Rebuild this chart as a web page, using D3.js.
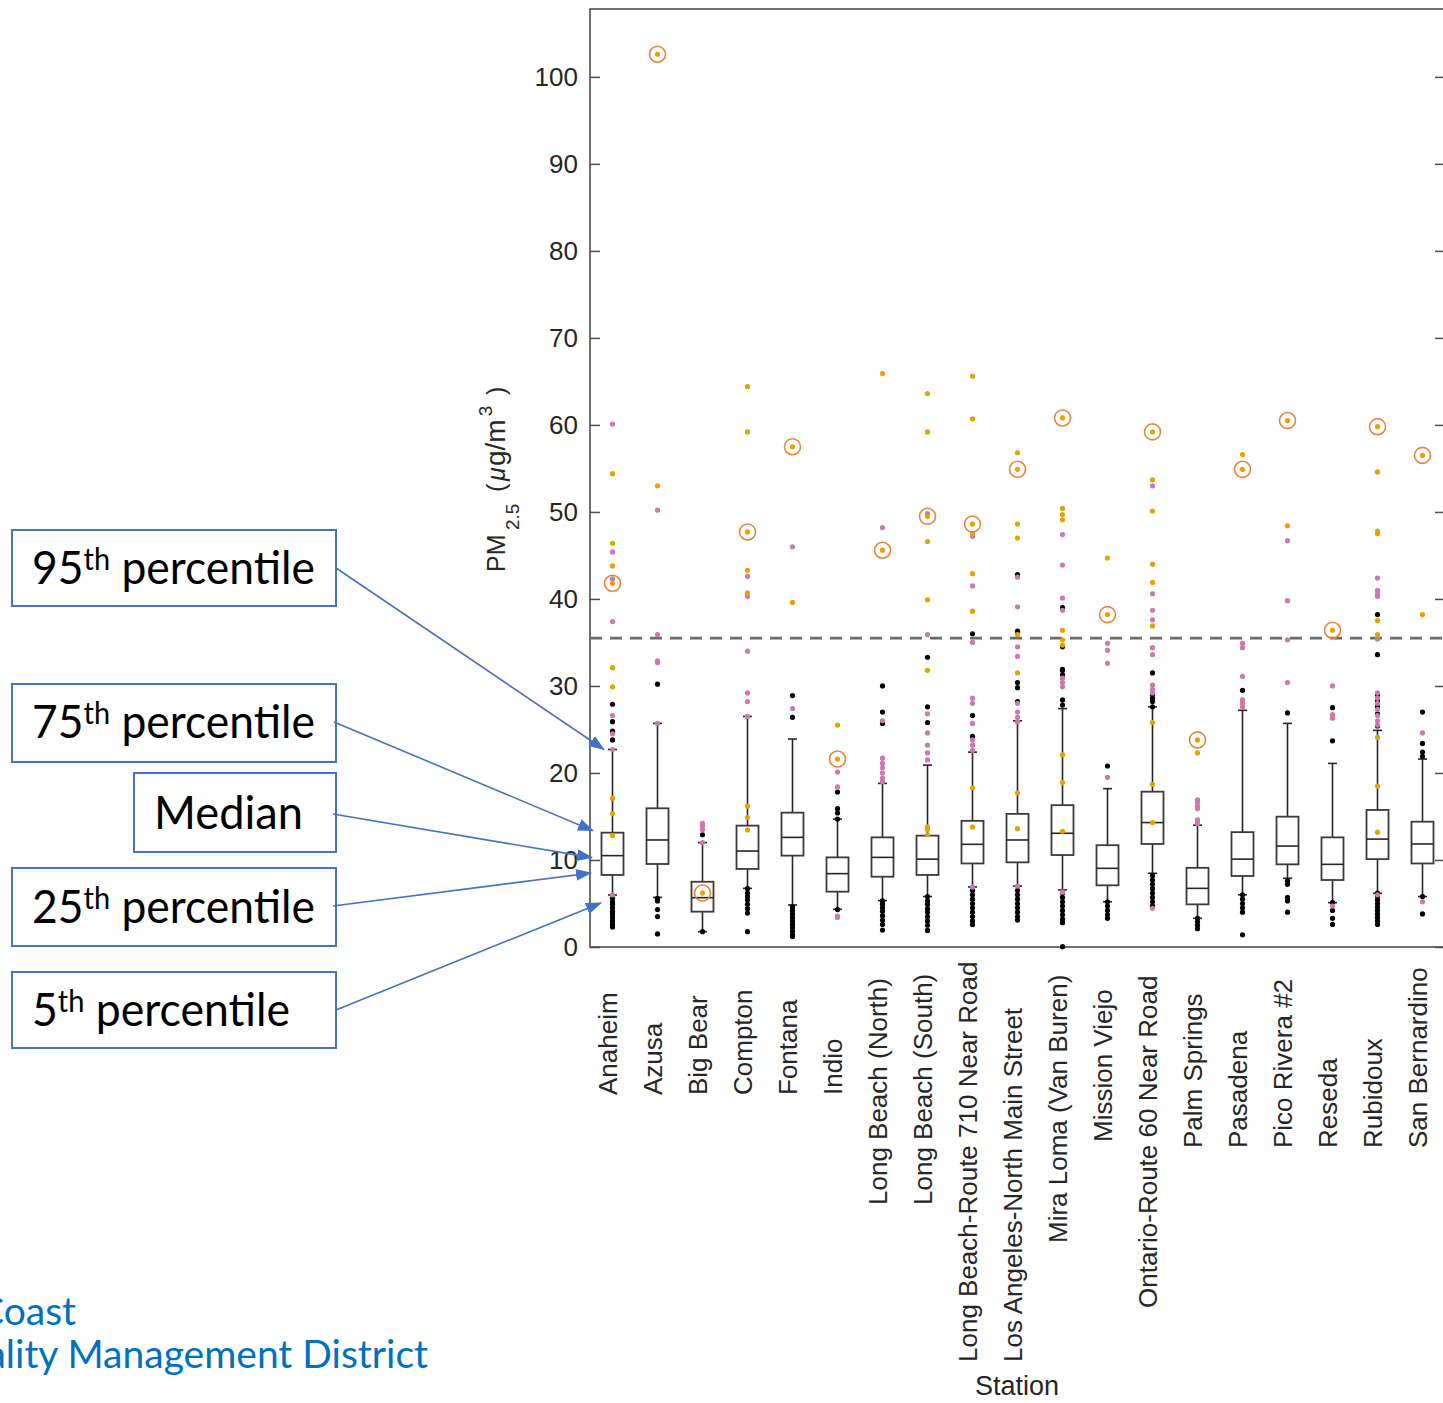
<!DOCTYPE html>
<html lang="en">
<head>
<meta charset="UTF-8">
<title>PM2.5 by station</title>
<script src="https://d3js.org/d3.v7.min.js"></script>
<style>
  body { margin: 0; background: #fff; overflow: hidden; }
  svg { display: block; font-family: "Liberation Sans", Arial, sans-serif; }
  .tick text { fill: #262626; font-size: 26px; }
  .tick line { stroke: #4d4d4d; stroke-width: 1.5; }
</style>
</head>
<body>
<div id="chart"></div>
<script>
// stations and box statistics (5th, 25th, median, 75th, 95th percentile)
const stations = ["Anaheim", "Azusa", "Big Bear", "Compton", "Fontana", "Indio",
  "Long Beach (North)", "Long Beach (South)", "Long Beach-Route 710 Near Road",
  "Los Angeles-North Main Street", "Mira Loma (Van Buren)", "Mission Viejo",
  "Ontario-Route 60 Near Road", "Palm Springs", "Pasadena", "Pico Rivera #2",
  "Reseda", "Rubidoux", "San Bernardino"];
const p5  = [5.98, 5.7, 1.76, 6.74, 4.83, 4.33, 5.33, 5.8, 6.9, 7.0, 6.55, 5.2, 8.47, 3.3, 6.0, 7.9, 5.1, 6.17, 5.8];
const p25 = [8.28, 9.54, 4.06, 8.97, 10.5, 6.36, 8.08, 8.28, 9.6, 9.73, 10.57, 7.09, 11.84, 4.9, 8.16, 9.5, 7.7, 10.1, 9.6];
const p50 = [10.5, 12.3, 5.67, 11.03, 12.6, 8.43, 10.3, 10.1, 11.8, 12.3, 13.07, 9.04, 14.3, 6.74, 10.1, 11.6, 9.5, 12.4, 11.84];
const p75 = [13.14, 15.94, 7.5, 13.95, 15.44, 10.3, 12.6, 12.8, 14.5, 15.3, 16.3, 11.7, 17.85, 9.1, 13.2, 14.98, 12.6, 15.75, 14.4];
const p95 = [22.7, 25.7, 12.0, 26.5, 23.9, 14.7, 18.8, 20.9, 22.4, 26.0, 27.4, 18.2, 27.6, 14.0, 27.2, 25.7, 21.1, 24.9, 21.6];

// circled day, one per station
const circled = [41.8, 102.6, 6.2, 47.7, 57.5, 21.6, 45.6, 49.5, 48.6, 54.9, 60.8, 38.2, 59.2, 23.8, 54.9, 60.5, 36.4, 59.8, 56.5];

// daily values drawn as dots, by colour
const orangePts = [
  [54.4, 46.4, 43.8, 32.1, 29.9, 17.1, 15.3, 12.8],
  [53.0],
  [],
  [64.4, 59.2, 43.3, 40.7, 16.2, 14.9, 13.45],
  [39.6],
  [25.5],
  [65.9],
  [63.6, 59.2, 46.6, 39.9, 31.8, 13.8, 13.5, 12.9],
  [65.6, 60.7, 47.5, 42.9, 38.6, 18.3, 13.8],
  [56.8, 48.6, 47.0, 35.9, 31.5, 17.7, 13.6],
  [50.4, 49.7, 49.1, 36.4, 35.3, 34.7, 22.1, 18.9, 13.3],
  [44.7],
  [53.7, 50.1, 44.0, 41.9, 36.9, 25.8, 18.7, 14.3],
  [22.3],
  [56.6],
  [48.4],
  [],
  [54.6, 47.8, 47.5, 37.5, 35.9, 24.1, 18.5, 13.2],
  [38.2]
];
const pinkPts = [
  [60.1, 45.4, 42.3, 37.4, 26.6, 24.5, 22.7, 6.0],
  [50.2, 35.9, 32.9, 32.7, 25.7],
  [14.2, 13.9, 13.5, 12.0],
  [42.6, 40.3, 34.0, 29.2, 28.2, 26.5],
  [46.0, 27.4],
  [20.1, 18.4, 3.56, 3.4],
  [48.2, 26.0, 21.7, 21.1, 20.6, 20.0, 19.4, 19.0],
  [49.8, 35.9, 26.8, 24.6, 23.2, 22.3, 21.5],
  [47.2, 41.5, 35.0, 28.6, 28.0, 25.7, 23.8, 23.2, 22.6, 6.9],
  [42.5, 39.1, 34.5, 33.4, 28.0, 27.0, 26.4, 25.9, 7.0],
  [47.4, 43.9, 40.1, 38.7, 30.9, 30.4, 29.9, 6.3],
  [34.9, 34.1, 32.6, 19.5],
  [53.0, 40.6, 38.7, 37.6, 34.4, 33.6, 30.1, 29.6, 29.2, 4.45],
  [16.9, 16.6, 16.2, 15.9, 14.6, 14.2],
  [34.9, 34.4, 31.1, 28.4, 28.0, 27.6],
  [46.7, 39.8, 35.3, 30.4],
  [30.0, 26.7, 26.3, 4.7],
  [42.4, 41.0, 40.6, 40.3, 35.4, 29.2, 28.6, 28.0, 27.3, 26.6, 26.0, 25.5, 6.0],
  [24.6, 5.2]
];
const blackPts = [
  [27.9, 25.9, 24.8, 23.8, 5.6, 5.2, 4.9, 4.5, 4.1, 3.8, 3.4, 3.0, 2.6, 2.3],
  [30.2, 5.6, 5.3, 4.3, 3.5, 1.5],
  [12.9, 1.76],
  [6.7, 6.2, 5.8, 5.4, 4.9, 4.4, 3.9, 1.76],
  [28.9, 26.4, 4.6, 4.2, 3.8, 3.4, 3.0, 2.6, 2.2, 1.8, 1.4, 1.2],
  [17.8, 15.9, 15.4, 14.7, 4.3],
  [30.0, 27.0, 25.7, 5.3, 4.9, 4.5, 4.1, 3.6, 3.1, 2.6, 1.95],
  [33.3, 27.6, 25.8, 5.8, 5.3, 4.9, 4.4, 4.0, 3.5, 3.0, 2.5, 1.9],
  [36.0, 26.6, 24.2, 6.5, 6.0, 5.5, 5.0, 4.5, 4.0, 3.5, 3.0, 2.6],
  [42.8, 36.3, 30.4, 29.8, 28.2, 6.5, 6.0, 5.5, 5.0, 4.5, 4.0, 3.5, 3.1],
  [39.0, 34.5, 31.9, 31.8, 31.3, 28.4, 27.8, 6.2, 5.7, 5.2, 4.7, 4.2, 3.7, 3.2, 2.8, 0.04],
  [20.8, 5.2, 4.7, 4.2, 3.7, 3.3],
  [31.5, 29.0, 28.6, 28.2, 27.6, 8.2, 7.7, 7.2, 6.7, 6.2, 5.7, 5.2, 4.7],
  [3.3, 2.9, 2.5, 2.1],
  [29.5, 6.0, 5.5, 5.0, 4.5, 4.0, 1.4],
  [26.9, 7.6, 7.2, 5.7, 5.3, 4.0],
  [27.5, 23.7, 5.1, 4.2, 3.3, 2.6],
  [38.2, 33.6, 29.0, 28.3, 27.6, 26.8, 25.4, 6.2, 5.8, 5.4, 5.0, 4.6, 4.2, 3.8, 3.4, 3.0, 2.6],
  [27.0, 23.4, 22.4, 21.9, 5.8, 3.8]
];

const standard = 35.5;
const yTicks = [0, 10, 20, 30, 40, 50, 60, 70, 80, 90, 100];

// layout
const W = 1443, H = 1403;
const plotLeft = 590, plotRight = 1445, plotTop = 9, plotBottom = 947;
const labelStartY = [1095, 1095, 1095, 1095, 1095, 1095, 1205, 1205, 1362, 1362,
  1243, 1142, 1308, 1148, 1148, 1148, 1148, 1148, 1148];

const svg = d3.select("#chart").append("svg")
  .attr("width", W).attr("height", H);
svg.append("rect").attr("width", W).attr("height", H).attr("fill", "#fff");

const x = d3.scaleBand().domain(stations).range([plotLeft, plotRight]);
const y = d3.scaleLinear().domain([0, 107.8]).range([plotBottom, plotTop]);
const cx = s => x(s) + x.bandwidth() / 2;
const boxHalf = 11, capHalf = 4.5;

// axes
const left = svg.append("g").attr("transform", `translate(${plotLeft},0)`)
  .call(d3.axisLeft(y).tickValues(yTicks).tickSize(-10).tickPadding(12));
left.select(".domain").remove();
const right = svg.append("g").attr("transform", `translate(${plotRight},0)`)
  .call(d3.axisRight(y).tickValues(yTicks).tickSize(-10).tickFormat(""));
right.select(".domain").remove();

svg.append("rect")
  .attr("x", plotLeft).attr("y", plotTop)
  .attr("width", plotRight - plotLeft).attr("height", plotBottom - plotTop)
  .attr("fill", "none").attr("stroke", "#4d4d4d").attr("stroke-width", 1.6);

// standard line
svg.append("line")
  .attr("x1", plotLeft).attr("x2", plotRight)
  .attr("y1", y(standard)).attr("y2", y(standard))
  .attr("stroke", "#6b6b6b").attr("stroke-width", 2.6)
  .attr("stroke-dasharray", "12,8");

// boxes
const boxes = svg.append("g").selectAll("g").data(stations).join("g");
boxes.append("line")
  .attr("x1", cx).attr("x2", cx)
  .attr("y1", (d, i) => y(p95[i])).attr("y2", (d, i) => y(p5[i]))
  .attr("stroke", "#262626").attr("stroke-width", 1.6);
[p95, p5].forEach(arr => {
  boxes.append("line")
    .attr("x1", d => cx(d) - capHalf).attr("x2", d => cx(d) + capHalf)
    .attr("y1", (d, i) => y(arr[i])).attr("y2", (d, i) => y(arr[i]))
    .attr("stroke", "#262626").attr("stroke-width", 1.6);
});
boxes.append("rect")
  .attr("x", d => cx(d) - boxHalf).attr("width", boxHalf * 2)
  .attr("y", (d, i) => y(p75[i]))
  .attr("height", (d, i) => y(p25[i]) - y(p75[i]))
  .attr("fill", "#fff").attr("stroke", "#3a3a3a").attr("stroke-width", 1.8);
boxes.append("line")
  .attr("x1", d => cx(d) - boxHalf).attr("x2", d => cx(d) + boxHalf)
  .attr("y1", (d, i) => y(p50[i])).attr("y2", (d, i) => y(p50[i]))
  .attr("stroke", "#262626").attr("stroke-width", 1.6);

// dots
function flat(arr, color) {
  return stations.flatMap((s, i) => arr[i].map(v => ({ s, v, color })));
}
const dots = [
  ...flat(blackPts, "#000"),
  ...flat(pinkPts, "#cf77ae"),
  ...flat(orangePts, "#e9a100"),
  ...stations.map((s, i) => ({ s, v: circled[i], color: "#e9a100" }))
];
svg.append("g").selectAll("circle").data(dots).join("circle")
  .attr("cx", d => cx(d.s)).attr("cy", d => y(d.v))
  .attr("r", 2.6).attr("fill", d => d.color);
svg.append("g").selectAll("circle").data(stations).join("circle")
  .attr("cx", cx).attr("cy", (d, i) => y(circled[i]))
  .attr("r", 8).attr("fill", "none")
  .attr("stroke", "#e8843c").attr("stroke-width", 1.6);

// station labels
svg.append("g").selectAll("text").data(stations).join("text")
  .attr("transform", (d, i) => `translate(${cx(d) - 5},${labelStartY[i]}) rotate(-90)`)
  .attr("dy", "0.35em")
  .attr("font-size", 26).attr("fill", "#262626")
  .text(d => d);

svg.append("text")
  .attr("x", 1017).attr("y", 1395)
  .attr("text-anchor", "middle").attr("font-size", 27).attr("fill", "#262626")
  .text("Station");

// y label, pieces spaced along the rotated baseline
const yl = svg.append("text")
  .attr("transform", "translate(505,572) rotate(-90)")
  .attr("font-size", 25).attr("fill", "#262626");
yl.append("tspan").attr("x", 0).text("PM");
yl.append("tspan").attr("x", 42).attr("dy", 14).attr("font-size", 19).text("2.5");
yl.append("tspan").attr("x", 80).attr("dy", -14).text("(");
yl.append("tspan").attr("x", 91).attr("font-style", "italic").text("\u03bc");
yl.append("tspan").attr("x", 106).attr("font-size", 28).text("g/m");
yl.append("tspan").attr("dx", 3).attr("dy", -13).attr("font-size", 19).text("3");
yl.append("tspan").attr("x", 177).attr("dy", 13).text(")");

// annotation boxes with arrows pointing at the Anaheim box
const annoNum  = ["95", "75", "", "25", "5"];
const annoSup  = ["th", "th", "", "th", "th"];
const annoRest = [" percentile", " percentile", "Median", " percentile", " percentile"];
const annoStat = [p95, p75, p50, p25, p5];
const annoBox  = [[12, 530, 324, 76], [12, 684, 324, 78], [134, 773, 202, 79], [12, 868, 324, 78], [12, 972, 324, 76]];
const annoText = [[32, 584, 283], [32, 738, 283], [154, 829, 149], [32, 923, 283], [32, 1026, 258]];
const arrowFrom = [[336, 568], [334, 722], [333, 814], [333, 906], [336, 1010]];
const arrowTipX = [604, 593, 592, 591, 601];
const tipDy = [0, -2, 2, -2, 8];
const blue = "#4472c4";

svg.append("defs").append("marker")
  .attr("id", "head").attr("markerUnits", "userSpaceOnUse")
  .attr("markerWidth", 16).attr("markerHeight", 12)
  .attr("refX", 15).attr("refY", 6).attr("orient", "auto")
  .append("path").attr("d", "M0,0 L16,6 L0,12 Z").attr("fill", blue);

const anno = svg.append("g").attr("font-family", "Lato, 'Open Sans', sans-serif");
annoBox.forEach((b, i) => {
  anno.append("rect")
    .attr("x", b[0]).attr("y", b[1]).attr("width", b[2]).attr("height", b[3])
    .attr("fill", "#fff").attr("stroke", blue).attr("stroke-width", 2);
  const t = anno.append("text")
    .attr("x", annoText[i][0]).attr("y", annoText[i][1])
    .attr("font-size", 46).attr("fill", "#000")
    .attr("textLength", annoText[i][2]).attr("lengthAdjust", "spacingAndGlyphs");
  if (annoNum[i]) {
    t.append("tspan").text(annoNum[i]);
    t.append("tspan").attr("dy", -14).attr("font-size", 30).text(annoSup[i]);
    t.append("tspan").attr("dy", 14).text(annoRest[i]);
  } else {
    t.text(annoRest[i]);
  }
  anno.append("line")
    .attr("x1", arrowFrom[i][0]).attr("y1", arrowFrom[i][1])
    .attr("x2", arrowTipX[i]).attr("y2", y(annoStat[i][0]) + tipDy[i])
    .attr("stroke", blue).attr("stroke-width", 1.6)
    .attr("marker-end", "url(#head)");
});

// agency name, cut off at the left edge as in the slide
const agency = svg.append("g").attr("font-family", "Lato, 'Open Sans', sans-serif")
  .attr("fill", "#0070c0").attr("font-size", 39).attr("text-anchor", "end");
agency.append("text").attr("x", 76).attr("y", 1325).text("South Coast");
agency.append("text").attr("x", 428).attr("y", 1368).text("Air Quality Management District");
</script>
</body>
</html>
